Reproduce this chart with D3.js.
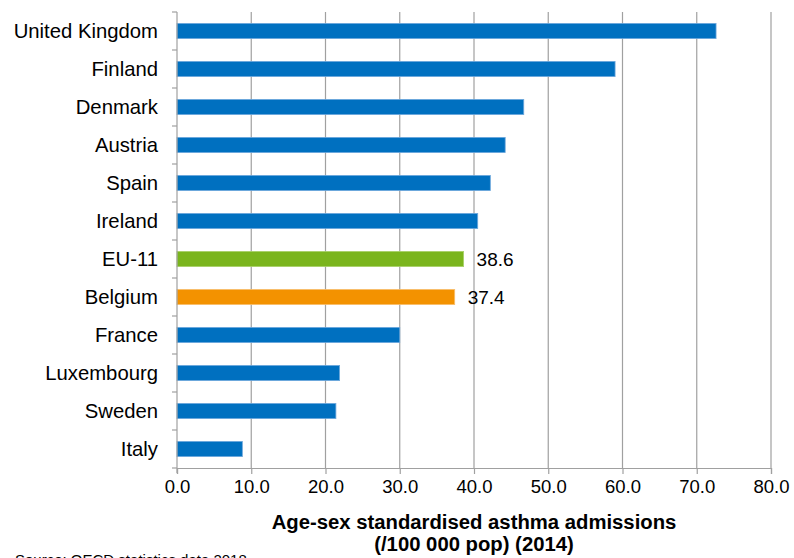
<!DOCTYPE html>
<html>
<head>
<meta charset="utf-8">
<script src="https://cdn.jsdelivr.net/npm/d3@7"></script>
<style>
  body { margin: 0; background: #fff; }
  text { font-family: "Liberation Sans", Arial, sans-serif; fill: #000; }
</style>
</head>
<body>
<script>
const countries = ["United Kingdom", "Finland", "Denmark", "Austria", "Spain", "Ireland",
  "EU-11", "Belgium", "France", "Luxembourg", "Sweden", "Italy"];
const admissions = [72.6, 59.0, 46.7, 44.2, 42.2, 40.5, 38.6, 37.4, 30.0, 21.9, 21.4, 8.8];
const xTicks = [0, 10, 20, 30, 40, 50, 60, 70, 80];
const labelled = { "EU-11": "38.6", "Belgium": "37.4" };

const width = 794, height = 558;
const margin = { top: 12, right: 23, bottom: 90, left: 177 };

const svg = d3.select("body").append("svg").attr("width", width).attr("height", height);

const x = d3.scaleLinear().domain([0, 80]).range([margin.left, width - margin.right]);
const y = d3.scaleBand().domain(countries).range([margin.top, height - margin.bottom]).paddingInner(0.6).paddingOuter(0.3);

const barColor = d => d === "EU-11" ? "#7ab51d" : d === "Belgium" ? "#f39200" : "#0070c0";
const edgeColor = d => d === "EU-11" ? "#a9d16b" : d === "Belgium" ? "#f8be6e" : "#6fa8dc";

// grid lines
svg.append("g")
  .selectAll("line")
  .data(xTicks.slice(1))
  .join("line")
  .attr("x1", d => x(d)).attr("x2", d => x(d))
  .attr("y1", margin.top).attr("y2", height - margin.bottom)
  .attr("stroke", "#a0a0a0").attr("stroke-width", 1.2);

// bars
svg.append("g")
  .selectAll("rect")
  .data(countries)
  .join("rect")
  .attr("x", x(0))
  .attr("y", d => y(d))
  .attr("width", (d, i) => x(admissions[i]) - x(0))
  .attr("height", y.bandwidth())
  .attr("fill", barColor)
  .attr("stroke", edgeColor)
  .attr("stroke-width", 0.8);

// value labels
svg.append("g")
  .selectAll("text")
  .data(countries.filter(d => labelled[d]))
  .join("text")
  .attr("x", d => x(admissions[countries.indexOf(d)]) + 13)
  .attr("y", d => y(d) + y.bandwidth() / 2)
  .attr("dy", "0.36em")
  .attr("font-size", 19)
  .text(d => labelled[d]);

// y axis
const yAxis = d3.axisLeft(y).tickSize(0).tickPadding(19);
const gy = svg.append("g")
  .attr("transform", `translate(${margin.left},0)`)
  .call(yAxis);
gy.select(".domain").remove();
gy.selectAll("text").attr("font-size", 20.3).attr("dy", "0.36em");

svg.append("line")
  .attr("x1", margin.left).attr("x2", margin.left)
  .attr("y1", margin.top).attr("y2", height - margin.bottom + 5)
  .attr("stroke", "#a0a0a0").attr("stroke-width", 1.2);

// category separator ticks
const step = y.step();
svg.append("g")
  .selectAll("line")
  .data(d3.range(countries.length + 1))
  .join("line")
  .attr("x1", margin.left - 5).attr("x2", margin.left)
  .attr("y1", i => margin.top + i * step).attr("y2", i => margin.top + i * step)
  .attr("stroke", "#a0a0a0").attr("stroke-width", 1.2);

// x axis
const xAxis = d3.axisBottom(x).tickValues(xTicks).tickSize(6).tickPadding(6).tickFormat(d3.format(".1f"));
const gx = svg.append("g")
  .attr("transform", `translate(0,${height - margin.bottom})`)
  .call(xAxis);
gx.select(".domain").attr("stroke", "#a0a0a0").attr("stroke-width", 1.2);
gx.selectAll(".tick line").attr("stroke", "#a0a0a0").attr("stroke-width", 1.2);
gx.selectAll("text").attr("font-size", 18.5);

// axis title
const cx = (x(0) + x(80)) / 2;
svg.append("text")
  .attr("x", cx).attr("y", 529)
  .attr("text-anchor", "middle").attr("font-weight", "bold").attr("font-size", 20.3)
  .text("Age-sex standardised asthma admissions");
svg.append("text")
  .attr("x", cx).attr("y", 551)
  .attr("text-anchor", "middle").attr("font-weight", "bold").attr("font-size", 20.3)
  .text("(/100 000 pop) (2014)");

// source
svg.append("text")
  .attr("x", 15).attr("y", 565)
  .attr("font-size", 15)
  .text("Source: OECD statistics data 2018");
</script>
</body>
</html>
